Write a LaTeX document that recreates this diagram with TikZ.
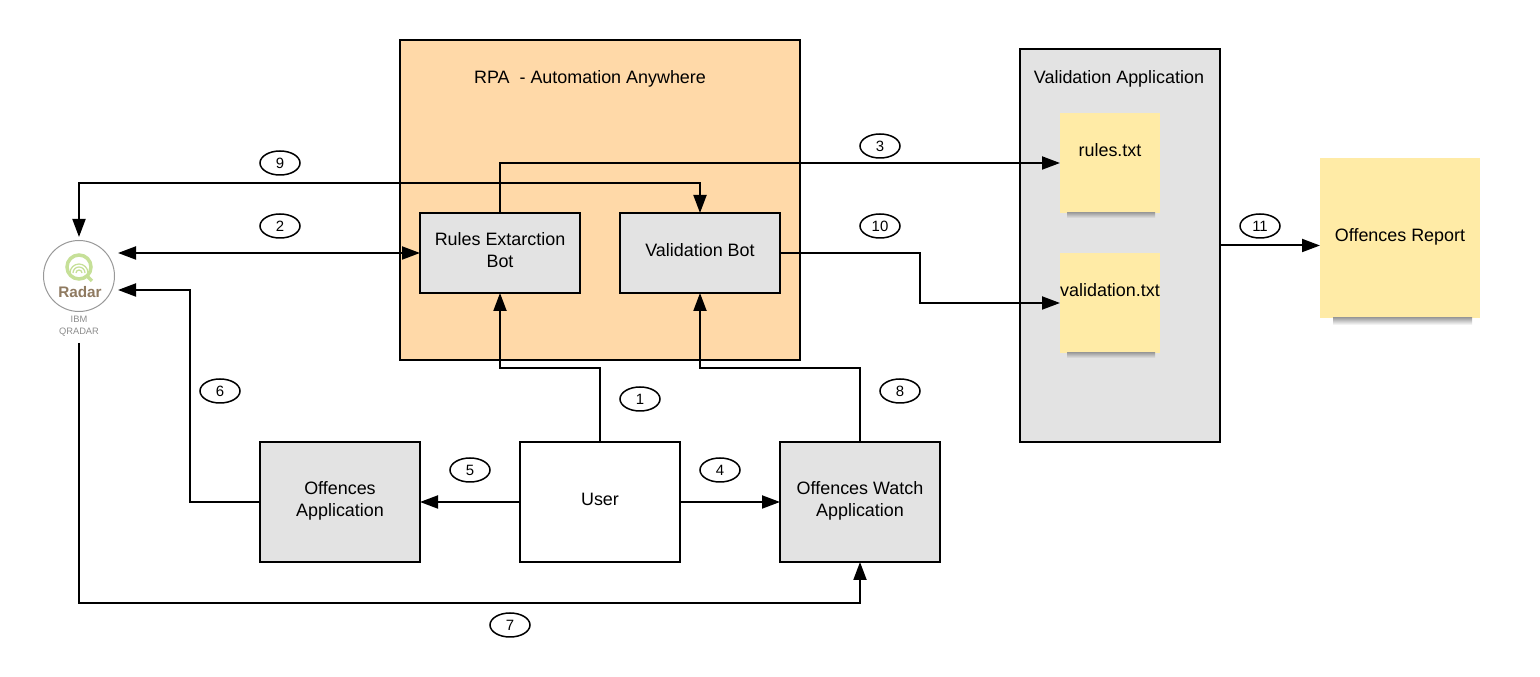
\documentclass[tikz,border=0pt]{standalone}
\usepackage{fontspec}
\setmainfont{Liberation Sans}
\definecolor{rpaorange}{RGB}{255, 217, 168}
\definecolor{boxgray}{RGB}{227, 227, 227}
\definecolor{noteyellow}{RGB}{255, 235, 166}
\definecolor{radargreen}{RGB}{198, 224, 152}
\definecolor{radarbrown}{RGB}{143, 122, 96}
\usetikzlibrary{arrows.meta, shapes.geometric}
\tikzset{
    liftedtext/.style={execute at end node={\rule[-3pt]{0pt}{0pt}}},
    flowbox/.style={draw, line width=0.4mm, fill=boxgray, minimum width=32mm, align=center, outer sep=0pt, liftedtext},
    container/.style={draw, line width=0.4mm, outer sep=0pt},
    stickynote/.style={fill=noteyellow, outer sep=0pt, liftedtext},
    noteshadow/.style={top color=black!36, bottom color=#1},
    stepnum/.style={draw, ellipse, line width=0.3mm, fill=white, minimum width=8mm, minimum height=4.8mm, inner sep=0pt, font=\fontsize{8.5}{10}\selectfont},
    flow/.style={-{Triangle[length=3.6mm, width=2.6mm]}, line width=0.4mm},
    bothflow/.style={{Triangle[length=3.6mm, width=2.6mm]}-{Triangle[length=3.6mm, width=2.6mm]}, line width=0.4mm}
}
\begin{document}
\begin{tikzpicture}[x=0.2mm, y=-0.2mm, every node/.style={font=\fontsize{10.2}{12.5}\selectfont}]
        \useasboundingbox (0,0) rectangle (1540,677);

        % Containers
        \node[container, fill=rpaorange, minimum width=80mm, minimum height=64mm] (rpa) at (600,200) {};
        \node (rpatitle) at (590,79) {RPA\ \ - Automation Anywhere};
        \node[container, fill=boxgray, minimum width=40mm, minimum height=78.6mm] (valapp) at (1120,245.5) {};
        \node (valtitle) at (1119,79) {Validation Application};

        % Nodes
        \node[flowbox, minimum height=16mm] (rulesbot) at (500,253) {Rules Extarction\\Bot};
        \node[flowbox, minimum height=16mm] (valbot) at (700,253) {Validation Bot};
        \node[flowbox, minimum height=24mm] (offapp) at (340,502) {Offences\\Application};
        \node[flowbox, fill=white, minimum height=24mm] (user) at (600,502) {User};
        \node[flowbox, minimum height=24mm] (watchapp) at (860,502) {Offences Watch\\Application};

        % Notes
        \node[stickynote, minimum width=20mm, minimum height=20mm] (rulesnote) at (1110,163) {};
        \node (rulestext) at (1110,150) {rules.txt};
        \node[stickynote, minimum width=20mm, minimum height=20mm] (valnote) at (1110,303) {};
        \node (valtext) at (1110,290) {validation.txt};
        \node[stickynote, minimum width=32mm, minimum height=32mm] (report) at (1400,238) {Offences Report};
        \shade[noteshadow=boxgray] ([shift={(7,0)}]rulesnote.south west) rectangle ([shift={(-5,5)}]rulesnote.south east);
        \shade[noteshadow=boxgray] ([shift={(7,0)}]valnote.south west) rectangle ([shift={(-5,5)}]valnote.south east);
        \shade[noteshadow=white] ([shift={(13,0)}]report.south west) rectangle ([shift={(-8,7)}]report.south east);

        % Radar logo
        \node[draw=black!40, circle, line width=0.2mm, fill=white, minimum size=14.2mm, inner sep=0pt] (radar) at (79,276) {};
        \draw[radargreen, line width=0.7mm] (79,267) circle (12);
        \draw[radargreen, line width=0.7mm] (87,276) -- (92,281);
        \draw[radargreen, line width=0.25mm] (70,273) arc (180:360:9);
        \draw[radargreen, line width=0.25mm] (73,273) arc (180:360:6);
        \draw[radargreen, line width=0.25mm] (76,273) arc (180:360:3);
        \node[text=radarbrown, font=\bfseries\fontsize{8.7}{10}\selectfont, inner sep=0pt] (radarname) at (80,292) {Radar};
        \node[text=black!45, font=\fontsize{5.3}{6.8}\selectfont, align=center, inner sep=0pt] (radarcaption) at (79,326) {IBM\\QRADAR};
        \coordinate (radartop) at (79,237);
        \coordinate (radarmid) at (118,253);
        \coordinate (radarlow) at (118,290);
        \coordinate (radarbottom) at (79,343);

        % Arrows
        \draw[flow] (user.north) -- ++(0,-74) -| (rulesbot.south);
        \draw[bothflow] (radarmid) -- (rulesbot.west);
        \draw[flow] (rulesbot.north) |- (rulesnote.west);
        \draw[flow] (user.east) -- (watchapp.west);
        \draw[flow] (user.west) -- (offapp.east);
        \draw[flow] (offapp.west) -- ++(-70,0) |- (radarlow);
        \draw[flow] (radarbottom) -- ++(0,260) -| (watchapp.south);
        \draw[flow] (watchapp.north) -- ++(0,-74) -| (valbot.south);
        \draw[bothflow] (radartop) -- ++(0,-54) -| (valbot.north);
        \draw[flow] (valbot.east) -- ++(140,0) |- (valnote.west);
        \draw[flow] (valapp.east) -- (report.west |- valapp.east);

        % Step numbers
        \node[stepnum] (num1) at (640,399) {1};
        \node[stepnum] (num2) at (280,226) {2};
        \node[stepnum] (num3) at (880,146) {3};
        \node[stepnum] (num4) at (720,470) {4};
        \node[stepnum] (num5) at (470,470) {5};
        \node[stepnum] (num6) at (220,391) {6};
        \node[stepnum] (num7) at (510,625) {7};
        \node[stepnum] (num8) at (900,391) {8};
        \node[stepnum] (num9) at (280,163) {9};
        \node[stepnum] (num10) at (880,226) {10};
        \node[stepnum] (num11) at (1260,226) {11};
    \end{tikzpicture}
\end{document}
